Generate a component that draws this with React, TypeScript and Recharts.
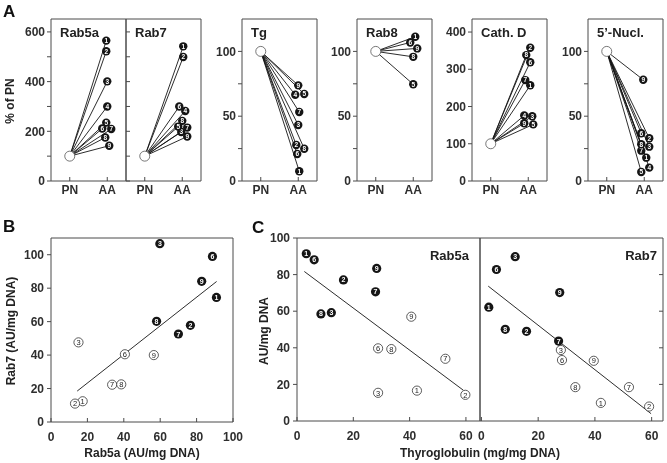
import React from "react";
import { ComposedChart, Line, Scatter, XAxis, YAxis, ReferenceArea } from "recharts";

const FONT = "'Liberation Sans', Arial, Helvetica, sans-serif";
const INK = "#151515";
const AXIS = "#4a4a4a";
const LABEL = "#2e2e2e";

// ---- panel A: AA value (% of PN) per subject 1..9, null = not visible
const subjects = [1, 2, 3, 4, 5, 6, 7, 8, 9];
const groupLabels = ["PN", "AA"];
const pnValue = 100;

const rab5aAA = [565, 522, 401, 300, 235, 211, 209, 175, 142];
const rab7AA = [542, 499, 197, 282, 219, 300, 215, 242, 179];
const tgAA = [7.5, 27.8, 43.2, 66.5, 67.1, 20.8, 53.2, 24.9, 73.8];
const rab8AA = [111.3, null, null, null, 74.6, 106.9, null, 95.8, 102.3];
const cathDAA = [257, 358, 174, 176, 152, 319, 271, 338, 155];
const nuclAA = [18.0, 33.0, 26.5, 10.3, 7.0, 36.9, 23.4, 28.4, 78.1];

// small sideways shifts (px) so overlapping AA markers stay readable
const rab5aNudge = [-1, -1, 0, 0, -1, -5, 4, -2, 2];
const rab7Nudge = [1, 1, -1, 3, -4, -3, 5, 0, 5];
const tgNudge = [1, -2, 0, -3, 6, -1, 1, 6, 0];
const rab8Nudge = [2, 0, 0, 0, 0, -3, 0, 0, 4];
const cathDNudge = [2, 2, 4, -4, 5, 2, -3, -2, -4];
const nuclNudge = [2, 5, 5, 5, -3, -3, -3, -3, -1];

const ticks650 = [0, 100, 200, 300, 400, 500, 600];
const labels650 = [0, 200, 400, 600];
const ticks125 = [0, 25, 50, 75, 100];
const labels125 = [0, 50, 100];
const ticksCath = [0, 100, 200, 300, 400];

// ---- panel B: Rab5a (x) vs Rab7 (y), AU/mg DNA
const bAAx = [90.9, 76.6, 59.8, null, null, 88.7, 70.0, 58.0, 82.8];
const bAAy = [74.5, 57.8, 106.6, null, null, 99.0, 52.6, 60.2, 84.1];
const bPNx = [17.4, 13.2, 15.1, null, null, 40.6, 33.6, 38.6, 56.5];
const bPNy = [12.4, 11.0, 47.6, null, null, 40.5, 22.3, 22.5, 40.0];
const bFitX = [14.4, 91];
const bFitY = [18.5, 84];
const bTicks = [0, 20, 40, 60, 80, 100];

// ---- panel C: thyroglobulin (x) vs Rab5a / Rab7 (y)
const cRab5aAAx = [3.3, 16.5, 12.2, null, null, 6.1, 27.9, 8.5, 28.3];
const cRab5aAAy = [91.4, 77.1, 59.2, null, null, 88.1, 70.6, 58.5, 83.4];
const cRab5aPNx = [42.6, 59.8, 28.8, null, null, 28.8, 52.7, 33.5, 40.6];
const cRab5aPNy = [16.6, 14.3, 15.4, null, null, 39.7, 34.0, 39.3, 57.0];
const cRab5aFitX = [2.6, 59.1];
const cRab5aFitY = [81.7, 16.8];

const cRab7AAx = [2.6, 15.9, 11.9, null, null, 5.3, 27.2, 8.4, 27.6];
const cRab7AAy = [62.2, 49.0, 89.8, null, null, 82.8, 43.7, 50.1, 70.2];
const cRab7PNx = [42.1, 59.1, 28.0, null, null, 28.4, 52.0, 33.1, 39.6];
const cRab7PNy = [9.9, 7.9, 38.8, null, null, 33.3, 18.5, 18.5, 32.9];
const cRab7FitX = [2.4, 59.8];
const cRab7FitY = [73.7, 4.0];

const cXTicks = [0, 20, 40, 60];
const cYTicks = [0, 20, 40, 60, 80, 100];
const cInnerTicks = [20, 40, 60, 80];

const tickText = { fontFamily: FONT, fontSize: 12, fontWeight: 700, fill: LABEL } as const;

type TickOpts = {
  side: "bottom" | "left" | "right";
  inward: boolean;
  len: number;
  gap: number;
  fmt: (v: number) => string;
};

function makeTick(o: TickOpts) {
  return (props: any) => {
    const { x, y, payload } = props;
    const label = o.fmt(payload.value);
    if (o.side === "bottom") {
      const y2 = o.inward ? y - o.len : y + o.len;
      return (
        <g>
          <line x1={x} x2={x} y1={y} y2={y2} stroke={AXIS} strokeWidth={1} />
          {label ? (
            <text x={x} y={y + o.gap} textAnchor="middle" style={tickText}>
              {label}
            </text>
          ) : null}
        </g>
      );
    }
    const dir = o.side === "left" ? -1 : 1;
    const x2 = o.inward ? x - dir * o.len : x + dir * o.len;
    return (
      <g>
        <line x1={x} x2={x2} y1={y} y2={y} stroke={AXIS} strokeWidth={1} />
        {label ? (
          <text x={x + dir * o.gap} y={y + 4.2} textAnchor={dir < 0 ? "end" : "start"} style={tickText}>
            {label}
          </text>
        ) : null}
      </g>
    );
  };
}

function FilledNum(r: number, fs: number) {
  return (props: any) => {
    const { cx, cy, payload } = props;
    if (cx == null || cy == null) return <g />;
    return (
      <g>
        <circle cx={cx} cy={cy} r={r} fill={INK} />
        <text x={cx} y={cy + fs * 0.36} textAnchor="middle" fontFamily={FONT} fontWeight={700} fontSize={fs} fill="#fff">
          {payload.id}
        </text>
      </g>
    );
  };
}

function OpenNum(r: number, fs: number) {
  return (props: any) => {
    const { cx, cy, payload } = props;
    if (cx == null || cy == null) return <g />;
    return (
      <g>
        <circle cx={cx} cy={cy} r={r} fill="#fff" stroke="#333" strokeWidth={0.8} />
        <text x={cx} y={cy + fs * 0.36} textAnchor="middle" fontFamily={FONT} fontSize={fs} fill="#222">
          {payload.id}
        </text>
      </g>
    );
  };
}

const OpenPN = (props: any) => (
  <circle cx={props.cx} cy={props.cy} r={5} fill="#fff" stroke="#555" strokeWidth={0.8} />
);

type PanelA = {
  title: string;
  values: (number | null)[];
  nudge: number[];
  yMax: number;
  ticks: number[];
  labels: number[];
  left: number;
  inward: boolean;
};

const panelsA: PanelA[] = [
  { title: "Rab5a", values: rab5aAA, nudge: rab5aNudge, yMax: 652, ticks: ticks650, labels: labels650, left: 51, inward: false },
  { title: "Rab7", values: rab7AA, nudge: rab7Nudge, yMax: 652, ticks: ticks650, labels: [], left: 126, inward: true },
  { title: "Tg", values: tgAA, nudge: tgNudge, yMax: 125, ticks: ticks125, labels: labels125, left: 242, inward: false },
  { title: "Rab8", values: rab8AA, nudge: rab8Nudge, yMax: 125, ticks: ticks125, labels: labels125, left: 357, inward: false },
  { title: "Cath. D", values: cathDAA, nudge: cathDNudge, yMax: 435, ticks: ticksCath, labels: ticksCath, left: 472, inward: false },
  { title: "5\u2019-Nucl.", values: nuclAA, nudge: nuclNudge, yMax: 125, ticks: ticks125, labels: labels125, left: 588, inward: false },
];

const A_TOP = 19;
const A_H = 162;
const A_W = 75;
const PX_PER_UNIT = A_W / 2;

// own compositing layer: keeps the tiny marker digits grayscale-antialiased
const layer = { willChange: "transform" } as const;

function PairPanel({ p }: { p: PanelA }) {
  const ml = 34;
  const mr = 4;
  const mb = 20;
  const lines = subjects
    .map((s, i) =>
      p.values[i] == null
        ? null
        : { id: s, data: [{ x: 0, y: pnValue }, { x: 1 + p.nudge[i] / PX_PER_UNIT, y: p.values[i] as number }] }
    )
    .filter(Boolean) as { id: number; data: { x: number; y: number }[] }[];
  const aa = lines.map((l) => ({ id: l.id, x: l.data[1].x, y: l.data[1].y }));
  const yTick = makeTick({
    side: "left",
    inward: p.inward,
    len: 4,
    gap: 6,
    fmt: (v) => (p.labels.includes(v) ? String(v) : ""),
  });
  const xTick = makeTick({ side: "bottom", inward: true, len: 4, gap: 12.5, fmt: (v) => groupLabels[v] ?? "" });
  // axes get 1px of size (a zero-size axis is not drawn), taken out of the margins
  return (
    <div style={{ position: "absolute", left: p.left - ml, top: 0, ...layer }}>
      <ComposedChart width={A_W + ml + mr} height={A_TOP + A_H + mb} margin={{ top: A_TOP, left: ml - 1, right: mr, bottom: mb - 1 }}>
        <XAxis type="number" dataKey="x" domain={[-0.5, 1.5]} ticks={[0, 1]} interval={0} height={1} tickSize={0} tickMargin={0} axisLine={false} tickLine={false} tick={xTick} allowDataOverflow />
        <YAxis type="number" dataKey="y" domain={[0, p.yMax]} ticks={p.ticks} interval={0} width={1} tickSize={0} tickMargin={0} axisLine={false} tickLine={false} tick={yTick} allowDataOverflow />
        <ReferenceArea x1={-0.5} x2={1.5} y1={0} y2={p.yMax} fill="none" fillOpacity={0} stroke={AXIS} strokeWidth={1} ifOverflow="visible" />
        {lines.map((l) => (
          <Line key={l.id} data={l.data} dataKey="y" stroke={INK} strokeWidth={0.9} dot={false} activeDot={false} isAnimationActive={false} />
        ))}
        <Scatter data={[{ x: 0, y: pnValue }]} shape={OpenPN} isAnimationActive={false} />
        <Scatter data={aa} shape={FilledNum(4.2, 6.5)} isAnimationActive={false} />
      </ComposedChart>
    </div>
  );
}

function pts(xs: (number | null)[], ys: (number | null)[]) {
  return subjects
    .map((s, i) => (xs[i] == null || ys[i] == null ? null : { id: s, x: xs[i] as number, y: ys[i] as number }))
    .filter(Boolean) as { id: number; x: number; y: number }[];
}

function fit(xs: number[], ys: number[]) {
  return xs.map((x, i) => ({ x, y: ys[i] }));
}

type Scat = {
  left: number;
  top: number;
  width: number;
  height: number;
  xDomain: [number, number];
  yDomain: [number, number];
  xTicks: number[];
  yTicks: number[];
  ySide: "left" | "right";
  yLabels: boolean;
  aa: { id: number; x: number; y: number }[];
  pn: { id: number; x: number; y: number }[];
  line: { x: number; y: number }[];
};

function ScatterPanel({ s }: { s: Scat }) {
  const ml = 40;
  const mr = 10;
  const mt = 10;
  const mb = 26;
  const xTick = makeTick({ side: "bottom", inward: true, len: 4, gap: 18.5, fmt: (v) => String(v) });
  const yTick = makeTick({
    side: s.ySide,
    inward: s.ySide === "right",
    len: 4,
    gap: 7,
    fmt: (v) => (s.yLabels ? String(v) : ""),
  });
  const margin =
    s.ySide === "left"
      ? { top: mt, left: ml - 1, right: mr, bottom: mb - 1 }
      : { top: mt, left: ml, right: mr - 1, bottom: mb - 1 };
  return (
    <div style={{ position: "absolute", left: s.left - ml, top: s.top - mt, ...layer }}>
      <ComposedChart width={s.width + ml + mr} height={s.height + mt + mb} margin={margin}>
        <XAxis type="number" dataKey="x" domain={s.xDomain} ticks={s.xTicks} interval={0} height={1} tickSize={0} tickMargin={0} axisLine={false} tickLine={false} tick={xTick} allowDataOverflow />
        <YAxis type="number" dataKey="y" orientation={s.ySide} domain={s.yDomain} ticks={s.yTicks} interval={0} width={1} tickSize={0} tickMargin={0} axisLine={false} tickLine={false} tick={yTick} allowDataOverflow />
        <ReferenceArea x1={s.xDomain[0]} x2={s.xDomain[1]} y1={s.yDomain[0]} y2={s.yDomain[1]} fill="none" fillOpacity={0} stroke={AXIS} strokeWidth={1} ifOverflow="visible" />
        <Line data={s.line} dataKey="y" stroke={INK} strokeWidth={0.9} dot={false} activeDot={false} isAnimationActive={false} />
        <Scatter data={s.pn} shape={OpenNum(4.6, 7.5)} isAnimationActive={false} />
        <Scatter data={s.aa} shape={FilledNum(4.6, 7)} isAnimationActive={false} />
      </ComposedChart>
    </div>
  );
}

const scatterPanels: Scat[] = [
  {
    left: 51, top: 238, width: 182, height: 184,
    xDomain: [0, 100], yDomain: [0, 110], xTicks: bTicks, yTicks: bTicks,
    ySide: "left", yLabels: true,
    aa: pts(bAAx, bAAy), pn: pts(bPNx, bPNy), line: fit(bFitX, bFitY),
  },
  {
    left: 297, top: 238, width: 183, height: 183,
    xDomain: [0, 65], yDomain: [0, 100], xTicks: cXTicks, yTicks: cYTicks,
    ySide: "left", yLabels: true,
    aa: pts(cRab5aAAx, cRab5aAAy), pn: pts(cRab5aPNx, cRab5aPNy), line: fit(cRab5aFitX, cRab5aFitY),
  },
  {
    left: 480, top: 238, width: 183, height: 183,
    xDomain: [-0.5, 64], yDomain: [0, 100], xTicks: cXTicks, yTicks: cInnerTicks,
    ySide: "right", yLabels: false,
    aa: pts(cRab7AAx, cRab7AAy), pn: pts(cRab7PNx, cRab7PNy), line: fit(cRab7FitX, cRab7FitY),
  },
];

const T = { fontFamily: FONT, fontWeight: 700, fill: "#222" } as const;

function Labels() {
  return (
    <svg width={667} height={463} style={{ position: "absolute", left: 0, top: 0, pointerEvents: "none" }}>
      <text x={3} y={17} fontSize={17} {...T} fill="#111">A</text>
      <text x={3} y={232} fontSize={17} {...T} fill="#111">B</text>
      <text x={252} y={233} fontSize={17} {...T} fill="#111">C</text>

      <text x={13.5} y={101} fontSize={12} textAnchor="middle" transform="rotate(-90 13.5 101)" {...T}>% of PN</text>
      {panelsA.map((p) => (
        <text key={p.title} x={p.left + 9} y={36.5} fontSize={13} {...T}>
          {p.title}
        </text>
      ))}

      <text x={15} y={331} fontSize={12} textAnchor="middle" transform="rotate(-90 15 331)" {...T}>Rab7 (AU/mg DNA)</text>
      <text x={142} y={457} fontSize={12} textAnchor="middle" {...T}>Rab5a (AU/mg DNA)</text>

      <text x={268} y={331} fontSize={12} textAnchor="middle" transform="rotate(-90 268 331)" {...T}>AU/mg DNA</text>
      <text x={480} y={457} fontSize={12} textAnchor="middle" {...T}>Thyroglobulin (mg/mg DNA)</text>
      <text x={469} y={260} fontSize={13} textAnchor="end" {...T}>Rab5a</text>
      <text x={657} y={260} fontSize={13} textAnchor="end" {...T}>Rab7</text>
    </svg>
  );
}

export default function App() {
  return (
    <div style={{ position: "absolute", left: 0, top: 0, width: 667, height: 463, background: "#fff", overflow: "hidden", fontFamily: FONT }}>
      {panelsA.map((p) => (
        <PairPanel key={p.title} p={p} />
      ))}
      {scatterPanels.map((s, i) => (
        <ScatterPanel key={i} s={s} />
      ))}
      <Labels />
    </div>
  );
}
